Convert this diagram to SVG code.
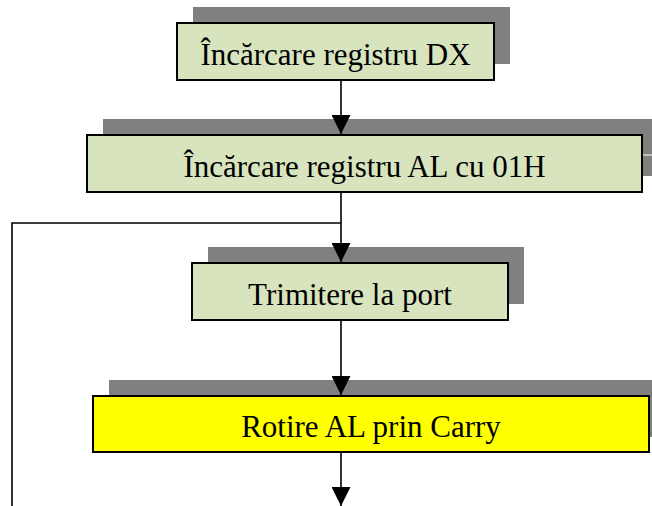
<svg xmlns="http://www.w3.org/2000/svg" width="652" height="506" viewBox="0 0 652 506">
<defs>
<style>
.sh{fill:#808080;}
.bx{stroke:#000;stroke-width:2;}
.g{fill:#D7E4BD;}
.y{fill:#FFFF00;}
.t{font-family:"Liberation Serif","Times New Roman",serif;font-size:31px;fill:#000;text-anchor:middle;}
.c{fill:none;stroke:#000;stroke-width:1.6;}
</style>
<marker id="ah" markerWidth="19" markerHeight="19" refX="19" refY="9.5" orient="auto" markerUnits="userSpaceOnUse">
<path d="M0,0 L19,9.5 L0,19 Z" fill="#000"/>
</marker>
</defs>
<rect width="652" height="506" fill="#fff"/>
<g id="n1">
<rect class="sh" x="193" y="7" width="317" height="57"/>
<rect class="bx g" x="177" y="23" width="317" height="57"/>
<text class="t" x="335.5" y="65">Încărcare registru DX</text>
</g>
<g id="n2">
<rect class="sh" x="103" y="119" width="560" height="57"/>
<line x1="643" y1="155" x2="652" y2="155" stroke="#fff" stroke-width="1"/>
<rect class="bx g" x="87" y="135" width="555" height="57"/>
<text class="t" x="364.5" y="177">Încărcare registru AL cu 01H</text>
</g>
<g id="n3">
<rect class="sh" x="208" y="247" width="316" height="57"/>
<rect class="bx g" x="192" y="263" width="316" height="57"/>
<text class="t" x="350" y="305">Trimitere la port</text>
</g>
<g id="n4">
<rect class="sh" x="109" y="380" width="560" height="57"/>
<rect class="bx y" x="93" y="396" width="556" height="56"/>
<text class="t" x="371" y="437">Rotire AL prin Carry</text>
</g>
<g id="connectors">
<line class="c" x1="341" y1="81" x2="341" y2="134" marker-end="url(#ah)"/>
<line class="c" x1="341" y1="193" x2="341" y2="262" marker-end="url(#ah)"/>
<polyline class="c" points="12,506 12,223 341,223"/>
<line class="c" x1="341" y1="321" x2="341" y2="395" marker-end="url(#ah)"/>
<line class="c" x1="341" y1="453" x2="341" y2="506" marker-end="url(#ah)"/>
</g>
</svg>
